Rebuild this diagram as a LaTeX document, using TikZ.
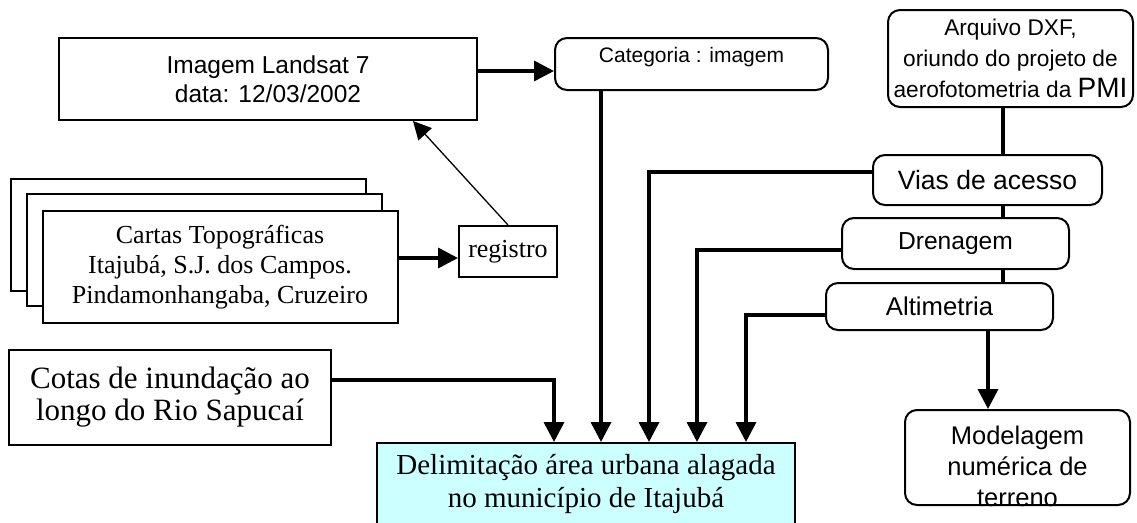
\documentclass[tikz,border=0pt]{standalone}
\usepackage{fontspec}
\setmainfont{Liberation Serif}
\setsansfont{Liberation Sans}
\usetikzlibrary{arrows.meta, calc, positioning}
\definecolor{resultcyan}{RGB}{204,255,255}
\newcommand{\fs}[2]{\fontsize{#1}{#2}\selectfont}
\tikzset{
  plainbox/.style={draw, line width=2pt, fill=white, align=center, inner sep=0pt},
  roundbox/.style={plainbox, rounded corners=12pt},
  feed/.style={line width=3.5pt, -{Triangle[length=20pt, width=20pt]}},
  link/.style={line width=3.5pt},
}

\begin{document}
\begin{tikzpicture}[x=1pt, y=-1pt]
    \useasboundingbox (0,0) rectangle (1137,522);

    % Sources on the left
    \node[plainbox, minimum width=418pt, minimum height=82pt, font=\sffamily\fs{24.5}{29}] (landsat) at (268,79) {Imagem Landsat 7\\ data: 12/03/2002};
    \node[plainbox, minimum width=355pt, minimum height=112pt] (cartasback) at (188.5,235) {};
    \node[plainbox, minimum width=355pt, minimum height=112pt] (cartasmid) at (204,250) {};
    \node[plainbox, minimum width=355pt, minimum height=112pt, font=\fs{26}{30}] (cartas) at (220,267) {Cartas Topográficas\\ Itajubá, S.J. dos Campos.\\ Pindamonhangaba, Cruzeiro};
    \node[plainbox, minimum width=98pt, minimum height=51pt, font=\fs{26}{30}] (registro) at (508,251.5) {registro};
    \node[plainbox, minimum width=322pt, minimum height=95pt, font=\fs{31}{32}] (cotas) at (170,397.5) {Cotas de inundação ao\\ longo do Rio Sapucaí};

    % Category and result
    \node[roundbox, minimum width=273pt, minimum height=52pt, label={[name=categoriatext, font=\sffamily\fs{21}{25}, yshift=7pt]center:Categoria : imagem}] (categoria) at (691.5,64) {};
    \node[plainbox, fill=resultcyan, minimum width=418pt, minimum height=82pt, font=\fs{29}{33}] (delim) at (586,484) {Delimitação área urbana alagada\\ no município de Itajubá};

    % DXF layers on the right
    \node[roundbox, minimum width=245pt, minimum height=97pt, font=\sffamily\fs{22.7}{31}] (arquivo) at (1010.5,58.5) {Arquivo DXF,\\ oriundo do projeto de\\ aerofotometria da {\fs{28}{31}PMI}};
    \node[roundbox, minimum width=229pt, minimum height=50pt, font=\sffamily\fs{26.5}{30}] (vias) at (987.5,180) {Vias de acesso};
    \node[roundbox, minimum width=227pt, minimum height=51pt, font=\sffamily\fs{24.6}{30}] (drenagem) at (955.5,243.5) {Drenagem};
    \node[roundbox, minimum width=227pt, minimum height=47pt, font=\sffamily\fs{25.7}{30}] (altimetria) at (939.5,306.5) {Altimetria};
    \node[roundbox, minimum width=225pt, minimum height=95pt, label={[name=modelagemtext, align=center, font=\sffamily\fs{25.5}{31}, yshift=-8.5pt]center:Modelagem\\ numérica de\\ terreno}] (modelagem) at (1017.5,457.5) {};

    % Connector ends
    \coordinate (imgout) at ([yshift=8pt]landsat.east);
    \coordinate (regin) at ([yshift=-6.5pt]registro.west);
    \coordinate (regtarget) at ([xshift=145pt]landsat.south);
    \coordinate (catout) at ([xshift=47pt]categoria.south west);
    \coordinate (cotout) at ([yshift=17.5pt]cotas.east);
    \coordinate (viasout) at ([yshift=8pt]vias.west);
    \coordinate (drenout) at ([yshift=-6.5pt]drenagem.west);
    \coordinate (altout) at ([yshift=-8.5pt]altimetria.west);
    \coordinate (cotin) at ([xshift=178pt]delim.north west);
    \coordinate (viasin) at ([xshift=273pt]delim.north west);
    \coordinate (drenin) at ([xshift=321pt]delim.north west);
    \coordinate (altin) at ([xshift=370pt]delim.north west);
    \coordinate (spine) at (1003,0);
    \coordinate (demline) at (988,0);

    % Connectors
    \draw[feed] (imgout) -- (imgout -| categoria.west);
    \draw[feed] (cartas.east |- regin) -- (regin);
    \draw[line width=1.3pt, -{Triangle[length=18pt, width=18pt]}] (registro.north) -- (regtarget);
    \draw[feed] (catout) -- (catout |- delim.north);
    \draw[feed] (cotout) -| (cotin);
    \draw[feed] (viasout) -| (viasin);
    \draw[feed] (drenout) -| (drenin);
    \draw[feed] (altout) -| (altin);
    \draw[link] (arquivo.south -| spine) -- (vias.north -| spine);
    \draw[link] (vias.south -| spine) -- (drenagem.north -| spine);
    \draw[link] (drenagem.south -| spine) -- (altimetria.north -| spine);
    \draw[feed] (altimetria.south -| demline) -- (modelagem.north -| demline);
\end{tikzpicture}
\end{document}
